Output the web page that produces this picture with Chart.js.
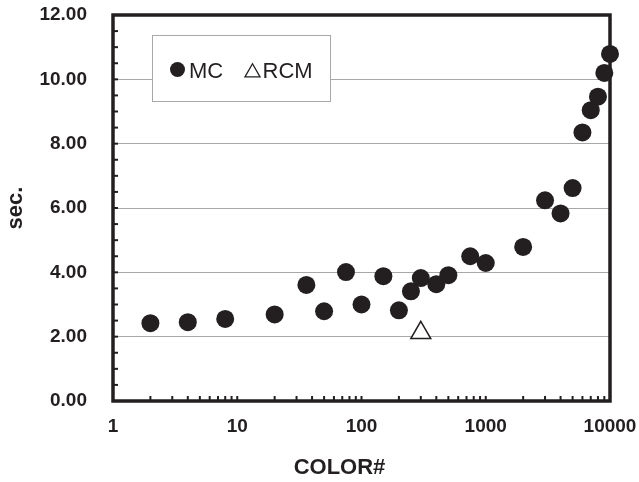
<!DOCTYPE html>
<html lang="en">
<head>
<meta charset="UTF-8">
<title>MC vs RCM</title>
<script src="https://cdn.jsdelivr.net/npm/chart.js"></script>
<style>
  body { margin: 0; background: #fff; }
  canvas { display: block; }
</style>
</head>
<body>
<canvas id="grafico" width="639" height="482"></canvas>
<script>
// data
const mcX = [2, 4, 8, 20, 36, 50, 75, 100, 150, 200, 250, 300, 400, 500, 750, 1000, 2000, 3000, 4000, 5000, 6000, 7000, 8000, 9000, 10000];
const mcY = [2.42, 2.45, 2.55, 2.69, 3.61, 2.79, 4.01, 3.00, 3.88, 2.82, 3.41, 3.82, 3.63, 3.91, 4.50, 4.29, 4.79, 6.24, 5.83, 6.62, 8.35, 9.04, 9.46, 10.20, 10.79];
const rcmX = [300];
const rcmY = [2.12];
const xTickLabels = [1, 10, 100, 1000, 10000];
const yTicks = [0, 2, 4, 6, 8, 10, 12];

const dark = '#231f20';
const gridGray = '#a8a8a8';
const fontFam = "'Liberation Sans', Arial, sans-serif";

function toPoints(xs, ys) {
  return xs.map((x, i) => ({ x: x, y: ys[i] }));
}

// frame + small inner tick marks + legend box + x title
const moldura = {
  id: 'moldura',
  beforeDatasetsDraw(chart) {
    const ctx = chart.ctx;
    const a = chart.chartArea;
    const xs = chart.scales.x;
    const ys = chart.scales.y;
    ctx.save();
    ctx.strokeStyle = dark;
    ctx.lineWidth = 2;
    // y minor ticks every 0.5
    for (let v = 0.5; v < 12; v += 0.5) {
      const py = ys.getPixelForValue(v);
      ctx.beginPath();
      ctx.moveTo(a.left, py);
      ctx.lineTo(a.left + 5, py);
      ctx.stroke();
    }
    // x minor ticks 2..9 per decade
    for (let d = 1; d < 10000; d *= 10) {
      for (let m = 2; m <= 10; m++) {
        const px = xs.getPixelForValue(m * d);
        ctx.beginPath();
        ctx.moveTo(px, a.bottom);
        ctx.lineTo(px, a.bottom - 5);
        ctx.stroke();
      }
    }
    ctx.lineWidth = 3.5;
    ctx.strokeRect(a.left, a.top, a.right - a.left, a.bottom - a.top);
    ctx.restore();
  },
  afterDatasetsDraw(chart) {
    const ctx = chart.ctx;
    const a = chart.chartArea;
    const bx = a.left + 39.5, by = a.top + 20.5;
    ctx.save();
    // legend box
    ctx.fillStyle = '#fff';
    ctx.fillRect(bx, by, 178, 66);
    ctx.strokeStyle = gridGray;
    ctx.lineWidth = 1;
    ctx.strokeRect(bx, by, 178, 66);
    // MC entry
    ctx.fillStyle = dark;
    ctx.beginPath();
    ctx.arc(bx + 25, by + 34, 7.5, 0, Math.PI * 2);
    ctx.fill();
    ctx.font = '22px ' + fontFam;
    ctx.textBaseline = 'alphabetic';
    ctx.textAlign = 'left';
    ctx.fillText('MC', bx + 36.5, by + 42);
    // RCM entry
    const tx = bx + 100, ty = by + 37;
    const r = 8.7;
    ctx.beginPath();
    ctx.moveTo(tx, ty - r);
    ctx.lineTo(tx + r * 0.866, ty + r / 2);
    ctx.lineTo(tx - r * 0.866, ty + r / 2);
    ctx.closePath();
    ctx.lineWidth = 1.3;
    ctx.strokeStyle = dark;
    ctx.stroke();
    ctx.fillText('RCM', bx + 110, by + 42);
    // x axis title
    ctx.font = 'bold 22px ' + fontFam;
    ctx.textAlign = 'center';
    ctx.textBaseline = 'middle';
    ctx.fillText('COLOR#', 339.5, 468);
    ctx.restore();
  }
};

const grafico = new Chart(document.getElementById('grafico'), {
  type: 'scatter',
  data: {
    datasets: [{
      label: 'MC',
      data: toPoints(mcX, mcY),
      pointStyle: 'circle',
      pointRadius: 9,
      pointHoverRadius: 9,
      backgroundColor: dark,
      borderColor: dark,
      borderWidth: 0,
      clip: false
    }, {
      label: 'RCM',
      data: toPoints(rcmX, rcmY),
      pointStyle: 'triangle',
      pointRadius: 11.5,
      pointHoverRadius: 11.5,
      backgroundColor: '#fff',
      borderColor: dark,
      borderWidth: 1.5,
      clip: false
    }]
  },
  options: {
    responsive: false,
    animation: false,
    events: [],
    layout: { padding: { top: 15, right: 29, left: 0, bottom: 0 } },
    plugins: {
      legend: { display: false },
      tooltip: { enabled: false }
    },
    scales: {
      x: {
        type: 'logarithmic',
        min: 1,
        max: 10000,
        afterFit: s => { s.height = 81; },
        grid: { drawOnChartArea: false, drawTicks: true, tickLength: 14, tickColor: 'transparent' },
        border: { display: false },
        ticks: {
          autoSkip: false,
          maxRotation: 0,
          padding: 0,
          color: dark,
          font: { family: fontFam, size: 19, weight: 'bold' },
          callback: v => xTickLabels.includes(v) ? String(v) : ''
        }
      },
      y: {
        min: 0,
        max: 12,
        afterFit: s => { s.width = 113; },
        afterBuildTicks: s => { s.ticks = yTicks.map(v => ({ value: v })); },
        grid: { color: gridGray, lineWidth: 1, drawTicks: true, tickLength: 26, tickColor: 'transparent' },
        border: { display: false },
        ticks: {
          padding: 0,
          color: dark,
          font: { family: fontFam, size: 19, weight: 'bold' },
          callback: v => v.toFixed(2)
        },
        title: {
          display: true,
          text: 'sec.',
          color: dark,
          padding: { top: 3, bottom: 0 },
          font: { family: fontFam, size: 22, weight: 'bold' }
        }
      }
    }
  },
  plugins: [moldura]
});
</script>
</body>
</html>
